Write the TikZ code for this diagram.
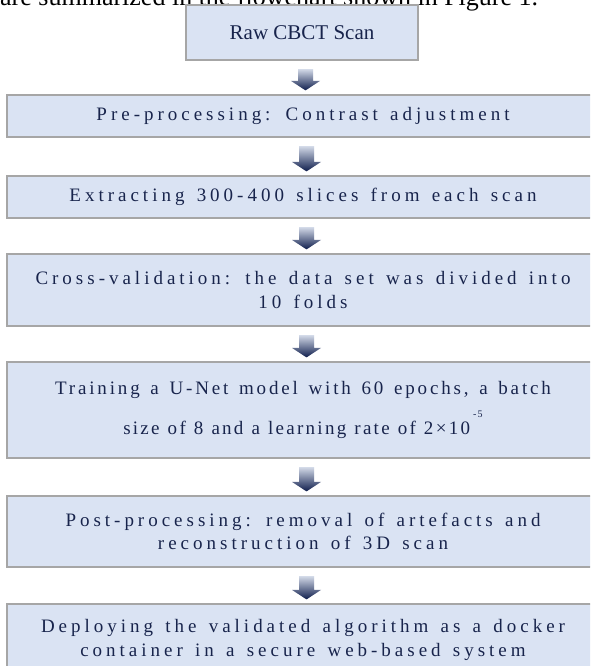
\documentclass[tikz,border=0pt]{standalone}
\usepackage{fontspec}
\setmainfont{Liberation Serif}
\newfontfamily\spaced[LetterSpace=21,WordSpace=1.4]{Liberation Serif}
\newfontfamily\spacedA[LetterSpace=15,WordSpace=1.4]{Liberation Serif}
\newfontfamily\spacedB[LetterSpace=12,WordSpace=1.15]{Liberation Serif}
\usetikzlibrary{calc}
\definecolor{boxfill}{HTML}{DAE3F3}
\definecolor{boxline}{HTML}{A6A6A6}
\definecolor{txt}{HTML}{18244C}
\definecolor{arrtop}{HTML}{D3DAE8}
\definecolor{arrbot}{HTML}{0E1D4C}
\tikzset{
  flowbox/.style={draw=boxline, line width=2.2pt, fill=boxfill, text=txt,
    align=center, inner sep=0pt, minimum width=592pt},
  topbox/.style={draw=boxline, line width=2.2pt, fill=boxfill, text=txt,
    align=center, inner sep=0pt, minimum width=232pt, minimum height=55pt,
    font=\fontsize{21}{25}\selectfont},
  spacedtext/.style={font=\fontsize{19}{23.5}\selectfont\spaced},
  arrowfill/.style={top color=arrtop, bottom color=arrbot, draw=none}
}
\newcommand\flowarrow[2]{%
  \path[arrowfill] let \p1=(#1.south), \p2=(#2.north) in
   ({\x1+3.5pt-7.5pt},{\y1-8pt}) -- ({\x1+3.5pt+7.5pt},{\y1-8pt})
   -- ({\x1+3.5pt+7.5pt},{\y2+13pt}) -- ({\x1+3.5pt+14.5pt},{\y2+13pt})
   -- ({\x1+3.5pt},{\y2+3.5pt}) -- ({\x1+3.5pt-14.5pt},{\y2+13pt})
   -- ({\x1+3.5pt-7.5pt},{\y2+13pt}) -- cycle;}
\begin{document}
\begin{tikzpicture}[x=1pt,y=1pt]
\useasboundingbox (0,0) rectangle (590,-666);
\clip (0,0) rectangle (590,-666);
\fill[white] (0,0) rectangle (590,-666);
\node[anchor=base west, inner sep=0pt, font=\fontsize{26}{26}\selectfont] (intro) at (0,-6) {are summarized in the flowchart shown in Figure 1.};
\node[topbox] (s1) at (302,-32.5) {Raw CBCT Scan};
\node[flowbox, spacedtext, minimum height=42pt] (s2) at (303,-116) {Pre-processing: Contrast adjustment};
\node[flowbox, spacedtext, minimum height=42pt] (s3) at (303,-197) {Extracting 300-400 slices from each scan};
\node[flowbox, spacedtext, minimum height=72pt] (s4) at (303,-290) {Cross-validation: the data set was divided into\\ 10 folds};
\node[flowbox, spacedtext, minimum height=96pt] (s5) at (303,-410) {\spacedA Training a U-Net model with 60 epochs, a batch\\[11pt] \spacedB size of 8 and a learning rate of 2×10\,\raisebox{17pt}{\fontsize{10}{10}\selectfont -5}};
\node[flowbox, spacedtext, minimum height=71pt] (s6) at (303,-531.5) {Post-processing: removal of artefacts and\\ reconstruction of 3D scan};
\node[flowbox, spacedtext, minimum height=72pt] (s7) at (303,-640) {Deploying the validated algorithm as a docker\\ container in a secure web-based system};
\flowarrow{s1}{s2}
\flowarrow{s2}{s3}
\flowarrow{s3}{s4}
\flowarrow{s4}{s5}
\flowarrow{s5}{s6}
\flowarrow{s6}{s7}
\end{tikzpicture}
\end{document}
